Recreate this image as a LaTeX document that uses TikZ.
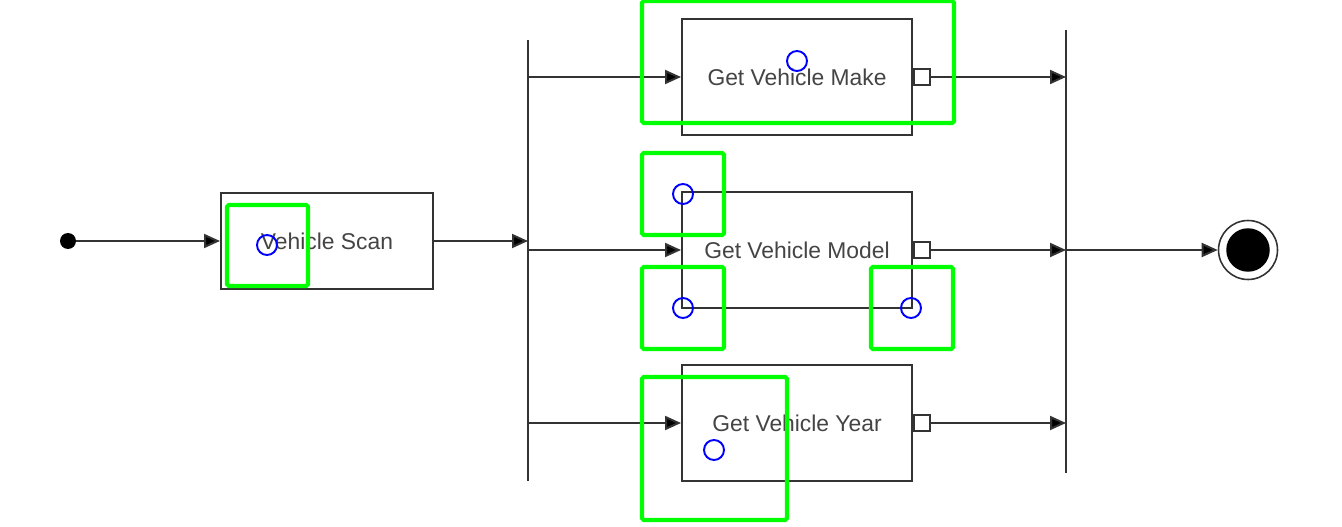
\documentclass[tikz,border=0pt]{standalone}
\usepackage{fontspec}
\setmainfont{Liberation Sans}
\usepackage{tikz}
\usetikzlibrary{arrows.meta}

\definecolor{linegray}{HTML}{333333}
\definecolor{textgray}{HTML}{444444}
\definecolor{hitgreen}{HTML}{00FF00}

\begin{document}
\begin{tikzpicture}[x=0.02cm,y=-0.02cm,
	act/.style={draw=linegray,line width=0.04cm,fill=white,text=textgray,
		minimum width=4.6cm,minimum height=2.32cm,inner sep=0pt,
		font=\fontsize{13}{15}\selectfont},
	pin/.style={draw=linegray,line width=0.04cm,fill=white,inner sep=0pt,minimum size=0.32cm},
	bar/.style={draw=linegray,line width=0.04cm,inner sep=0pt,minimum width=0pt},
	flow/.style={draw=linegray,line width=0.04cm,-{Triangle[length=0.32cm,width=0.28cm,fill=black]}},
	hitbox/.style={draw=hitgreen,line width=2.3pt,rounded corners=1pt},
	hitdot/.style={draw=blue,line width=1.1pt}]
	\useasboundingbox (0,0) rectangle (1342,527);
	
	\node (start) [circle,fill=black,inner sep=0pt,minimum size=0.32cm] at (68,241) {};
	\node (scan) [act,minimum width=4.24cm,minimum height=1.92cm] at (327,241) {Vehicle Scan};
	\node (fork) [bar,minimum height=8.82cm] at (528,260.5) {};
	\node (join) [bar,minimum height=8.86cm] at (1066,251.5) {};
	\node (end) [circle,draw=linegray,line width=0.9pt,inner sep=0pt,minimum size=1.18cm] at (1248,250) {};
	\node (endin) [circle,fill=black,inner sep=0pt,minimum size=0.87cm] at (end) {};
	
	\draw [flow] (start) -- (scan.west);
	\draw [flow] (scan.east) -- (scan.east -| fork);
	
	\foreach \i/\y/\t in {1/77/Make,2/250/Model,3/423/Year}{
		\node (act\i) [act] at (797,\y) {Get Vehicle \t};
		\node (pin\i) [pin,anchor=west] at (act\i.east) {};
		\draw [flow] (fork |- act\i.west) -- (act\i.west);
		\draw [flow] (pin\i.east) -- (pin\i.east -| join);
	}
	
	\draw [flow] (join |- end.west) -- (end.west);
	
	% overlay marks
	\foreach \a/\b/\c/\d in {642/1/954/123,642/153/724/235,642/267/724/349,871/267/953/349,642/377/787/520,227/205/308/286}
	\draw [hitbox] (\a,\b) rectangle (\c,\d);
	\foreach \a/\b in {797/61,683/194,683/308,911/308,714/450,267/245}
	\draw [hitdot] (\a,\b) circle [radius=0.2cm];
	
\end{tikzpicture}
\end{document}
